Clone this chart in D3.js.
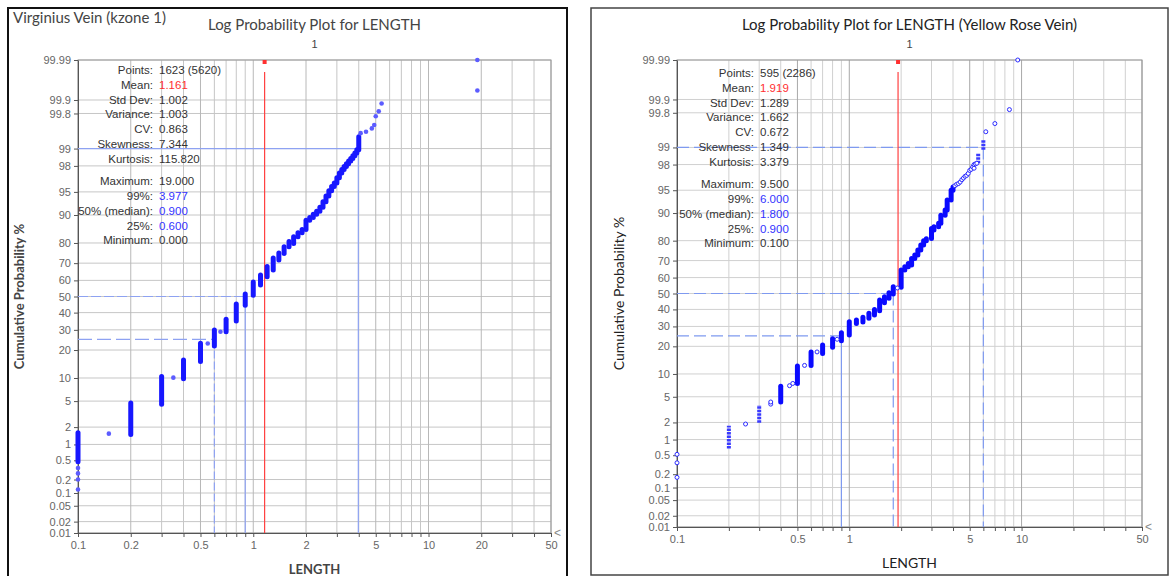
<!DOCTYPE html>
<html>
<head>
<meta charset="utf-8">
<script src="https://cdn.jsdelivr.net/npm/d3@7"></script>
<style>
  body { margin: 0; background: #fff; }
  text { font-family: "Liberation Sans", Arial, sans-serif; }
  .ttl { font-family: Lato, "Open Sans", sans-serif; }
</style>
</head>
<body>
<svg width="1170" height="576"></svg>
<script>
// Akser
const probTicks = [0.01, 0.02, 0.05, 0.1, 0.2, 0.5, 1, 2, 5, 10, 20, 30, 40, 50, 60, 70, 80, 90, 95, 98, 99, 99.8, 99.9, 99.99];
const gridX = [0.1, 0.2, 0.3, 0.4, 0.5, 0.6, 0.7, 0.8, 0.9, 1, 2, 3, 4, 5, 6, 7, 8, 9, 10, 20, 30, 40, 50];
const virgXLabels = [0.1, 0.2, 0.5, 1, 2, 5, 10, 20, 50];
const yrXLabels = [0.1, 0.5, 1, 5, 10, 50];

// Statistik
const statLabels = ["Points:", "Mean:", "Std Dev:", "Variance:", "CV:", "Skewness:", "Kurtosis:", "Maximum:", "99%:", "50% (median):", "25%:", "Minimum:"];
const virgStats = ["1623 (5620)", "1.161", "1.002", "1.003", "0.863", "7.344", "115.820", "19.000", "3.977", "0.900", "0.600", "0.000"];
const yrStats = ["595 (2286)", "1.919", "1.289", "1.662", "0.672", "1.349", "3.379", "9.500", "6.000", "1.800", "0.900", "0.100"];

// Middel og kvantiler [procent, LENGTH]
const virgMean = 1.161;
const virgQuant = [[99, 3.977], [50, 0.9], [25, 0.6]];
const yrMean = 1.919;
const yrQuant = [[99, 6.0], [50, 1.8], [25, 0.9]];

// Virginius: stakke [LENGTH, fra %, til %] og enkeltpunkter [LENGTH, %]
const virgStacks = [
  [0.1, 0.47, 1.6], [0.2, 1.5, 4.7], [0.3, 4.5, 10.4], [0.4, 9.8, 15.9], [0.5, 15.3, 23.1],
  [0.6, 21.8, 29.9], [0.7, 29, 36], [0.8, 35, 45.3], [0.9, 44.5, 51.6], [1.0, 50.8, 59],
  [1.1, 57.1, 63.2], [1.2, 62.2, 68.1], [1.3, 66.2, 72.7], [1.4, 71.7, 75.3], [1.5, 75.1, 78.3],
  [1.6, 78.3, 80.6], [1.7, 79.8, 82.6], [1.8, 82.6, 84.2], [1.9, 84.2, 85.4], [2.0, 85.4, 88.5],
  [2.1, 88.5, 89.3], [2.2, 89.3, 90.2], [2.3, 90.2, 91.0], [2.4, 91.0, 92.0], [2.5, 92.0, 93.2],
  [2.6, 93.2, 94.3], [2.7, 94.3, 95.2], [2.8, 95.2, 95.8], [2.9, 95.8, 96.3], [3.0, 96.3, 96.9],
  [3.1, 96.9, 97.4], [3.2, 97.4, 97.7], [3.3, 97.7, 97.95], [3.4, 97.95, 98.15], [3.5, 98.15, 98.35],
  [3.6, 98.35, 98.5], [3.7, 98.5, 98.65], [3.8, 98.65, 98.8], [3.9, 98.8, 98.95], [4.0, 98.95, 99.4]
];
const virgSingles = [
  [0.1, 0.35], [0.1, 0.27], [0.1, 0.2], [0.1, 0.12], [0.15, 1.55], [0.35, 10.1], [0.55, 23], [0.65, 29],
  [4.1, 99.49], [4.4, 99.52], [4.75, 99.59], [4.9, 99.65], [5.0, 99.77], [5.2, 99.82], [5.4, 99.88],
  [19, 99.94], [19, 99.99]
];

// Yellow Rose
const yrStacks = [
  [0.4, 4.2, 7.0], [0.5, 7.6, 12.4], [0.6, 12.6, 17.6], [0.7, 17.0, 20.6], [0.8, 19.6, 23.6],
  [0.9, 22.6, 26.6], [1.0, 25.4, 32.7], [1.1, 31.7, 33.6], [1.2, 32.5, 35.2], [1.3, 34.6, 37.6],
  [1.4, 36.6, 40], [1.5, 39.2, 45.9], [1.6, 44.2, 48], [1.7, 47, 50.5], [1.8, 49.7, 54.3],
  [2.0, 53.9, 64.6], [2.1, 64.6, 66.5], [2.2, 66.5, 68.4], [2.3, 67.5, 71.2], [2.4, 71.2, 73],
  [2.5, 73, 75.6], [2.6, 75.6, 78], [2.7, 78, 80], [2.8, 80, 80.8], [3.0, 81, 85],
  [3.1, 84.4, 85.6], [3.3, 85.6, 86.8], [3.4, 86.8, 89.4], [3.6, 89.4, 90.8], [3.7, 90.8, 93.2],
  [3.9, 93.2, 95.0], [4.0, 95.0, 95.5]
];
const yrSparse = [[0.2, 0.68, 1.76], [0.3, 1.98, 3.8], [5.6, 98.1, 98.7], [6.0, 98.9, 99.3]];
const yrSingles = [
  [0.1, 0.52], [0.1, 0.35], [0.1, 0.17], [0.25, 1.88], [0.35, 3.9], [0.35, 4.2], [0.45, 7.1], [0.47, 7.6],
  [0.55, 12.6], [0.65, 17.6], [0.85, 23.3], [1.9, 53.5],
  [4.1, 95.7], [4.2, 95.9], [4.3, 96.0], [4.4, 96.2], [4.5, 96.5], [4.6, 96.7], [4.7, 96.9], [4.8, 97.0],
  [4.9, 97.2], [5.0, 97.5], [5.1, 97.6], [5.2, 97.8], [5.3, 97.7], [5.3, 98.0], [5.4, 98.05], [5.5, 98.1],
  [6.2, 99.5], [7.0, 99.66], [8.5, 99.83], [9.5, 99.99]
];

// Invers normalfordeling (Acklam) til sandsynlighedsaksen
function probit(p) {
  const a = [-3.969683028665376e+01, 2.209460984245205e+02, -2.759285104469687e+02, 1.383577518672690e+02, -3.066479806614716e+01, 2.506628277459239e+00];
  const b = [-5.447609879822406e+01, 1.615858368580409e+02, -1.556989798598866e+02, 6.680131188771972e+01, -1.328068155288572e+01];
  const c = [-7.784894002430293e-03, -3.223964580411365e-01, -2.400758277161838e+00, -2.549732539343734e+00, 4.374664141464968e+00, 2.938163982698783e+00];
  const d = [7.784695709041462e-03, 3.224671290700398e-01, 2.445134137142996e+00, 3.754408661907416e+00];
  const pl = 0.02425;
  if (p < pl) {
    const q = Math.sqrt(-2 * Math.log(p));
    return (((((c[0]*q+c[1])*q+c[2])*q+c[3])*q+c[4])*q+c[5]) / ((((d[0]*q+d[1])*q+d[2])*q+d[3])*q+1);
  }
  if (p > 1 - pl) {
    const q = Math.sqrt(-2 * Math.log(1 - p));
    return -(((((c[0]*q+c[1])*q+c[2])*q+c[3])*q+c[4])*q+c[5]) / ((((d[0]*q+d[1])*q+d[2])*q+d[3])*q+1);
  }
  const q = p - 0.5, r = q * q;
  return (((((a[0]*r+a[1])*r+a[2])*r+a[3])*r+a[4])*r+a[5])*q / (((((b[0]*r+b[1])*r+b[2])*r+b[3])*r+b[4])*r+1);
}

const svg = d3.select("svg");

function drawPanel(o) {
  const g = svg.append("g");

  // ramme
  g.append("rect").attr("x", o.box[0]).attr("y", o.box[1]).attr("width", o.box[2]).attr("height", o.box[3])
    .attr("fill", "none").attr("stroke", o.boxColor).attr("stroke-width", o.boxWidth);

  const x = d3.scaleLog().domain([0.1, 50]).range([o.left, o.right]);
  const z = d3.scaleLinear().domain([probit(0.0001), probit(0.9999)]).range([o.bottom, o.top]);
  const y = p => z(probit(p / 100));

  // gitter
  g.append("g").selectAll("line").data(probTicks).enter().append("line")
    .attr("x1", o.left).attr("x2", o.right).attr("y1", y).attr("y2", y)
    .attr("stroke", o.gridColor).attr("stroke-width", 1);
  g.append("g").selectAll("line").data(gridX).enter().append("line")
    .attr("x1", x).attr("x2", x).attr("y1", o.top).attr("y2", o.bottom)
    .attr("stroke", d => o.labels.includes(d) ? o.gridMajor : o.gridColor).attr("stroke-width", 1);
  g.append("rect").attr("x", o.left).attr("y", o.top).attr("width", o.right - o.left).attr("height", o.bottom - o.top)
    .attr("fill", "none").attr("stroke", "#999");

  // akser
  const xAxis = g.append("g").attr("transform", `translate(0,${o.bottom})`)
    .call(d3.axisBottom(x).tickValues(gridX).tickSize(4).tickSizeOuter(0)
      .tickFormat(d => o.labels.includes(d) ? d : ""));
  const yAxis = g.append("g").attr("transform", `translate(${o.left},0)`)
    .call(d3.axisLeft(z).tickValues(probTicks.map(p => probit(p / 100))).tickSize(4).tickSizeOuter(0)
      .tickFormat((d, i) => probTicks[i]));
  [xAxis, yAxis].forEach(ax => {
    ax.select(".domain").attr("stroke", "#555");
    ax.selectAll(".tick line").attr("stroke", "#555");
    ax.selectAll("text").attr("fill", "#666").style("font-size", "11px")
      .style("font-family", "'Liberation Sans', Arial, sans-serif");
  });
  xAxis.selectAll("text").attr("dy", "0.71em").attr("y", 8);
  g.append("text").attr("x", o.right + 3).attr("y", o.bottom + 4).attr("fill", "#888")
    .style("font-size", "12px").text("<");

  // titler
  const cx = (o.left + o.right) / 2;
  g.append("text").attr("class", "ttl").attr("x", cx).attr("y", 30).attr("text-anchor", "middle")
    .attr("fill", o.titleColor).style("font-size", "15px").text(o.title);
  g.append("text").attr("x", cx).attr("y", 48).attr("text-anchor", "middle")
    .attr("fill", "#444").style("font-size", "11px").text("1");
  g.append("text").attr("class", "ttl")
    .attr("transform", `translate(${o.yLabelX},${(o.top + o.bottom) / 2}) rotate(-90)`)
    .attr("text-anchor", "middle").attr("fill", o.titleColor)
    .style("font-size", o.labelSize).style("font-weight", o.labelWeight).text("Cumulative Probability %");
  g.append("text").attr("class", "ttl").attr("x", cx).attr("y", o.lengthY).attr("text-anchor", "middle")
    .attr("fill", o.titleColor).style("font-size", o.labelSize).style("font-weight", o.labelWeight).text("LENGTH");

  // kvantil-linjer
  o.quant.forEach((q, i) => {
    g.append("line").attr("x1", o.left).attr("x2", x(q[1])).attr("y1", y(q[0])).attr("y2", y(q[0]))
      .attr("stroke", o.refColor).attr("stroke-width", 1.2).attr("stroke-dasharray", o.hDash[i]);
    g.append("line").attr("x1", x(q[1])).attr("x2", x(q[1])).attr("y1", y(q[0])).attr("y2", o.bottom)
      .attr("stroke", o.refColor).attr("stroke-width", 1.2).attr("stroke-dasharray", o.vDash[i]);
  });
  // middelværdi
  g.append("line").attr("x1", x(o.mean)).attr("x2", x(o.mean)).attr("y1", o.top + 12).attr("y2", o.bottom)
    .attr("stroke", "#ff4040").attr("stroke-width", 1.2);
  g.append("rect").attr("x", x(o.mean) - 2).attr("y", o.top).attr("width", 4).attr("height", 4).attr("fill", "#ff3030");

  // punkter
  g.append("g").selectAll("line").data(o.stacks).enter().append("line")
    .attr("x1", d => x(d[0])).attr("x2", d => x(d[0])).attr("y1", d => y(d[1])).attr("y2", d => y(d[2]))
    .attr("stroke", o.dotColor).attr("stroke-width", 5).attr("stroke-linecap", "round");
  g.append("g").selectAll("line").data(o.sparse).enter().append("line")
    .attr("x1", d => x(d[0])).attr("x2", d => x(d[0])).attr("y1", d => y(d[1])).attr("y2", d => y(d[2]))
    .attr("stroke", "#3a3aff").attr("stroke-width", 4).attr("stroke-dasharray", "2.5,1");
  g.append("g").selectAll("circle").data(o.singles).enter().append("circle")
    .attr("cx", d => x(d[0])).attr("cy", d => y(d[1])).attr("r", o.hollow ? 2 : 2.3)
    .attr("fill", o.hollow ? "#fff" : "#5c5cff").attr("stroke", o.hollow ? "#2a2aff" : "none").attr("stroke-width", 1);

  // statistikboks
  const rowY = i => o.statTop + i * 14.8 + (i > 6 ? 7.5 : 0);
  g.append("g").selectAll("text").data(statLabels).enter().append("text")
    .attr("x", o.left + o.statLab).attr("y", (d, i) => rowY(i)).attr("text-anchor", "end")
    .attr("fill", "#333").style("font-size", "11.5px").text(d => d);
  g.append("g").selectAll("text").data(o.stats).enter().append("text")
    .attr("x", o.left + o.statLab + 6).attr("y", (d, i) => rowY(i))
    .attr("fill", (d, i) => i === 1 ? "#ff3030" : (i >= 8 && i <= 10 ? "#3333ff" : "#333"))
    .style("font-size", "11.5px").text(d => d);

  return g;
}

// Venstre panel
drawPanel({
  box: [8, 8, 559, 580], boxColor: "#111", boxWidth: 2,
  left: 78, right: 551, top: 60, bottom: 533,
  labels: virgXLabels, gridColor: "#c6c6c6", gridMajor: "#b8b8b8",
  title: "Log Probability Plot for LENGTH", titleColor: "#444",
  yLabelX: 24, lengthY: 574, labelSize: "13px", labelWeight: "bold",
  quant: virgQuant, mean: virgMean, refColor: "#8ea2f2",
  hDash: ["none", "10,3", "14,5"], vDash: ["none", "none", "8,3"],
  stacks: virgStacks, sparse: [], singles: virgSingles, hollow: false, dotColor: "#1717ff",
  stats: virgStats, statTop: 74, statLab: 75
});
svg.append("text").attr("class", "ttl").attr("x", 13).attr("y", 23)
  .attr("fill", "#444").style("font-size", "15px").text("Virginius Vein (kzone 1)");

// Højre panel
drawPanel({
  box: [591, 8, 577, 567], boxColor: "#444", boxWidth: 1.5,
  left: 677, right: 1142, top: 60, bottom: 527,
  labels: yrXLabels, gridColor: "#d0d0d0", gridMajor: "#a8a8a8",
  title: "Log Probability Plot for LENGTH (Yellow Rose Vein)", titleColor: "#222",
  yLabelX: 624, lengthY: 568, labelSize: "14px", labelWeight: "normal",
  quant: yrQuant, mean: yrMean, refColor: "#7f9af0",
  hDash: ["12,5", "12,5", "12,5"], vDash: ["12,5", "12,5", "none"],
  stacks: yrStacks, sparse: yrSparse, singles: yrSingles, hollow: true, dotColor: "#0a0aff",
  stats: yrStats, statTop: 77, statLab: 77
});
</script>
</body>
</html>
